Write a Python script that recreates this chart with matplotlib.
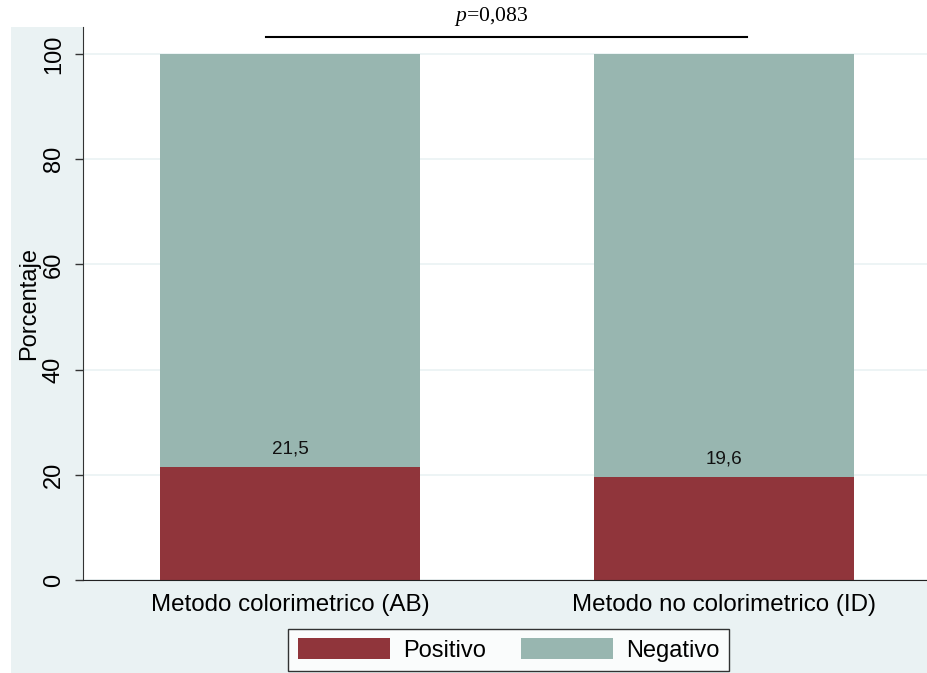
import matplotlib
matplotlib.use("Agg")
import matplotlib.pyplot as plt
from matplotlib.patches import Rectangle

categories = ["Metodo colorimetrico (AB)", "Metodo no colorimetrico (ID)"]
positivo = [21.5, 19.6]
negativo = [78.5, 80.4]
value_labels = ["21,5", "19,6"]
series_names = ["Positivo", "Negativo"]
y_ticks = [0, 20, 40, 60, 80, 100]
p_text = "0,083"

RED = "#90353B"
TEAL = "#98B6B0"
BG = "#EAF2F3"

plt.rcParams['font.family'] = ['Liberation Sans', 'DejaVu Sans']
plt.rcParams['mathtext.fontset'] = 'custom'
plt.rcParams['mathtext.it'] = 'Liberation Serif:italic'
plt.rcParams['mathtext.rm'] = 'Liberation Serif'

W, H = 927, 673
fig = plt.figure(figsize=(W / 100, H / 100), dpi=100)
fig.patch.set_facecolor("white")
fig.patches.append(Rectangle((11 / W, 0.0), 1 - 11 / W, 1 - 27 / H,
                             transform=fig.transFigure, facecolor=BG,
                             edgecolor="none", zorder=-10))

ax = fig.add_axes([83 / W, 1 - 580 / H, (W - 83) / W, (580 - 27) / H])
ax.set_zorder(5)
ax.set_facecolor("white")

x = list(range(len(categories)))
ax.bar(x, positivo, width=0.6, color=RED, zorder=2, label=series_names[0])
ax.bar(x, negativo, width=0.6, bottom=positivo, color=TEAL, zorder=2,
       label=series_names[1])

for xi, v, lab in zip(x, positivo, value_labels):
    ax.text(xi, v + 1.8, lab, ha="center", va="bottom", fontsize=13.6,
            color="#111111", zorder=3)

ax.set_ylim(0, 105.13)
ax.set_xlim(-0.4775, 1.469)
ax.set_yticks(y_ticks)
ax.set_yticklabels([str(t) for t in y_ticks], rotation=90, va="center",
                   fontsize=17)
ax.set_xticks(x)
ax.set_xticklabels(categories, fontsize=17.4)
ax.tick_params(axis="x", length=0, pad=10)
ax.tick_params(axis="y", length=6, width=1, color="#333333", pad=7)
ax.grid(axis="y", color=BG, linewidth=1.2, zorder=1)
ax.set_axisbelow(True)
for s in ["top", "right"]:
    ax.spines[s].set_visible(False)
ax.spines["left"].set_color("#333333")
ax.spines["bottom"].set_color("#222222")

# significance line
ax.plot([-0.055, 1.054], [103.2, 103.2], color="black", lw=1.5,
        clip_on=False, zorder=4)
fig.text(491 / W, 1 - 17 / H, r"$p$=" + p_text, ha="center", va="center",
         fontsize=15.6, family="Liberation Serif")

fig.text(29 / W, 1 - 304 / H, "Porcentaje", rotation=90, ha="center",
         va="center", fontsize=17)

leg = ax.legend(loc="center", bbox_to_anchor=(508.5 / W, 1 - 650 / H),
                bbox_transform=fig.transFigure, ncol=2, fontsize=17,
                frameon=True, fancybox=False, edgecolor="black",
                handlelength=3.9, handleheight=1.0, handletextpad=0.55,
                columnspacing=1.5, borderpad=0.4, borderaxespad=0)
leg.get_frame().set_linewidth(1.0)

fig.savefig("out.png", dpi=100, facecolor=fig.get_facecolor())
